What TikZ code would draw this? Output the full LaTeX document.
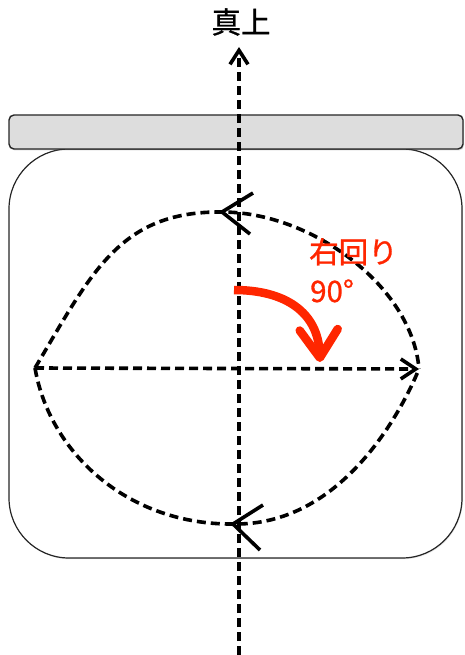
\documentclass[tikz,border=0pt]{standalone}
\usepackage{fontspec}
\newfontfamily\jpfont{Noto Sans CJK JP}[FakeBold=1]
\usetikzlibrary{arrows.meta,shadows}
\definecolor{turnred}{RGB}{255,38,0}
\definecolor{lidgray}{RGB}{221,221,221}

\begin{document}
\begin{tikzpicture}[x=1pt,y=-1pt,
    holder/.style={draw=black!85, line width=1.2pt, fill=white, rounded corners=60pt,
        drop shadow={shadow xshift=0.8pt, shadow yshift=-1.2pt, opacity=0.2}},
    lid/.style={draw=black!85, line width=1.4pt, fill=lidgray, rounded corners=5pt,
        drop shadow={shadow xshift=1pt, shadow yshift=-1.5pt, opacity=0.3}},
    dashline/.style={line width=3.6pt, dash pattern=on 9pt off 5pt},
    tipline/.style={line width=3.6pt},
    turnarrow/.style={turnred, line width=8.5pt, -{Straight Barb[length=28pt,width=38pt,round]}},
    jplabel/.style={font=\jpfont\fontsize{29.5}{34}\selectfont, inner sep=0pt}]
    \useasboundingbox (0,0) rectangle (464,655);

    % Holder and lid
    \draw[holder] (9,149) rectangle (462,558);
    \draw[lid] (9,115) rectangle (463,149);

    % Key points
    \coordinate (west) at (35,368);
    \coordinate (east) at (419,369);
    \coordinate (north) at (222,212);
    \coordinate (south) at (233,524);
    \coordinate (axisfoot) at (239,655);
    \coordinate (axishead) at (239,47);

    % Upward axis
    \node[jplabel] (up) at (241,22) {真上};
    \draw[dashline, -{Straight Barb[length=14pt,width=18pt]}] (axisfoot) -- (axishead);

    % Level line
    \draw[dashline, -{Straight Barb[length=15pt,width=20pt]}] (west) -- (east);

    % Loop
    \draw[dashline] (west) .. controls (92,272) and (120,211) .. (north)
        .. controls (310,212) and (412,285) .. (east);
    \draw[dashline] (west) .. controls (50,455) and (130,525) .. (south)
        .. controls (340,526) and (400,415) .. (east);
    \draw[tipline] (253,193) -- (north) -- (250,234);
    \draw[tipline] (263,505) -- (south) -- (260,550);

    % Turn
    \draw[turnarrow] (234,290) .. controls (285,290) and (318,312) .. (320,362);
    \node[jplabel, text=turnred, anchor=base west] (turn) at (309,263) {右回り};
    \node[jplabel, text=turnred, anchor=base west] (angle) at (310,302) {90°};
\end{tikzpicture}
\end{document}
